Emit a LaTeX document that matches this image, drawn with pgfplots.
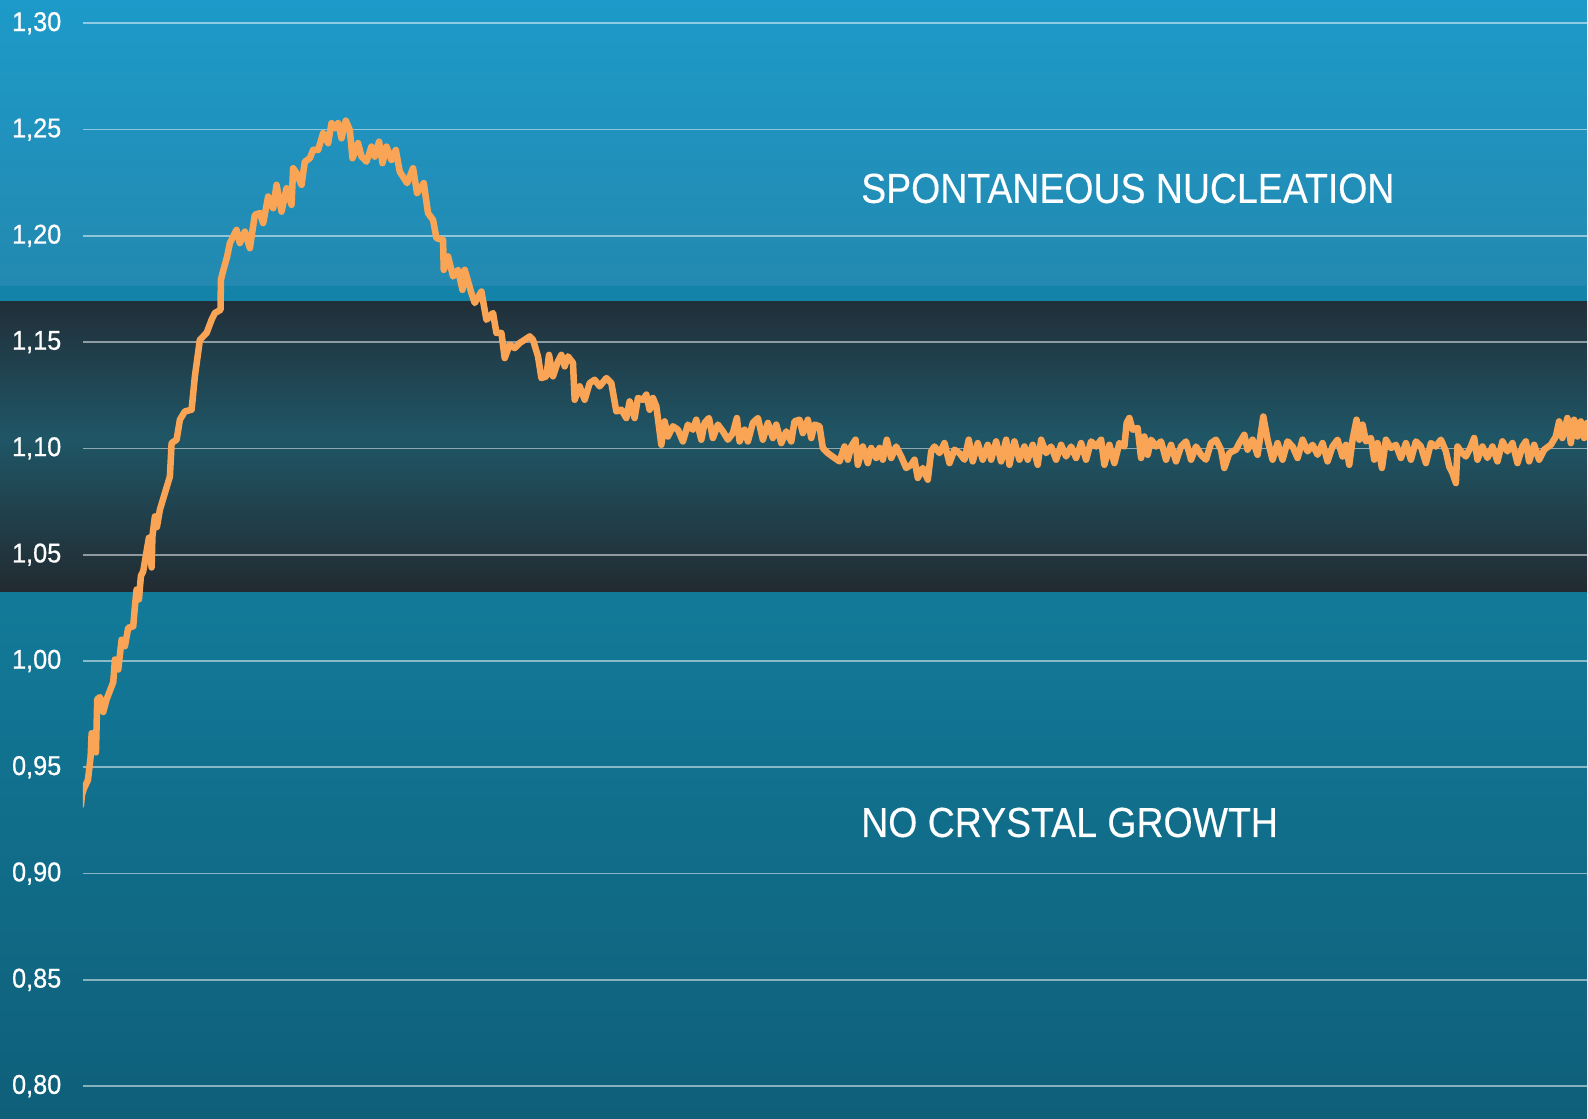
\documentclass[border=0pt]{standalone}
\usepackage{pgfplots}
\pgfplotsset{compat=1.18}
\usepackage{fontspec}
\setmainfont{Liberation Sans}
\newfontfamily\tickfont[FakeStretch=0.93,FakeBold=0.6]{Liberation Sans}
\newfontfamily\bigfont[FakeStretch=0.892,FakeBold=0.3]{Liberation Sans}
\definecolor{topA}{RGB}{29,154,201}
\definecolor{topB}{RGB}{35,137,176}
\definecolor{strip}{RGB}{19,131,169}
\definecolor{darkA}{RGB}{33,47,57}
\definecolor{darkM}{RGB}{31,86,102}
\definecolor{darkB}{RGB}{34,42,48}
\definecolor{botA}{RGB}{18,122,153}
\definecolor{botB}{RGB}{15,95,121}
\definecolor{lineor}{RGB}{250,165,85}
\pgfplotstableread{
x y
81 0.932
82 0.937
84 0.940
88 0.944
90.7 0.955
91.7 0.966
94 0.963
96 0.957
97.3 0.982
100 0.983
103.3 0.976
106.7 0.982
113.3 0.990
115 1.0007
118.3 0.996
121.7 1.010
125 1.007
128.3 1.0156
133.3 1.0163
135 1.0257
136.7 1.0336
139 1.029
141 1.040
143.3 1.0422
146.7 1.0516
149 1.058
151.7 1.044
152.5 1.0586
155 1.068
157 1.063
160 1.0712
165 1.079
170 1.0868
171.7 1.1025
176.7 1.1041
180 1.1135
185 1.1174
191.7 1.1182
195 1.1339
200 1.1511
206.7 1.1543
211.7 1.1605
215 1.1637
220.7 1.1652
221 1.1793
222.7 1.1825
227.3 1.1903
230 1.1966
236.7 1.2028
240 1.1966
245 1.2020
250 1.1942
255 1.2099
260 1.2107
263.3 1.206
268.3 1.2185
273.3 1.213
276.7 1.224
281.7 1.2114
286.7 1.2224
291.7 1.2146
293.3 1.2318
296.7 1.2295
301.7 1.224
305 1.2349
310 1.2365
313.3 1.2404
318.3 1.2404
323.3 1.2483
328.3 1.2436
331.7 1.253
335 1.2506
338.3 1.253
341.7 1.2459
346 1.2542
350 1.2498
352.7 1.2365
358.3 1.2436
361.7 1.2373
366.7 1.2349
371.7 1.242
375 1.2373
379.3 1.2443
382.7 1.2342
386.7 1.242
391.7 1.2357
396 1.2404
400 1.2302
407.3 1.2248
413.3 1.2318
417.3 1.2201
424 1.2248
428.3 1.2107
433.3 1.2075
436.7 1.1989
443.3 1.1981
444 1.184
448.3 1.1903
453.3 1.1809
458.3 1.184
462.7 1.1746
465 1.184
471.7 1.173
475 1.1684
481.7 1.1738
486.7 1.1605
493.3 1.1637
496.7 1.1543
501.7 1.1543
505 1.1425
510 1.1488
515 1.1472
520 1.1496
525 1.1511
530 1.1527
533.3 1.1511
538.3 1.1433
541.7 1.1331
546.7 1.1339
549.3 1.144
553.3 1.1339
558.3 1.141
561.7 1.144
565 1.1386
568.3 1.1433
573.3 1.1402
575 1.1229
580 1.1292
585 1.1229
590 1.1307
595 1.1323
600 1.1292
606.7 1.1331
611.7 1.1307
616.7 1.1174
621.7 1.1182
626.7 1.1143
630 1.1221
635 1.1143
638.3 1.1237
643.3 1.1229
646.7 1.1253
650 1.1182
653.3 1.1237
656.7 1.1198
661.7 1.1017
665 1.1127
668.3 1.1056
673.3 1.1104
678.3 1.1088
683.3 1.1033
688.3 1.1112
693.3 1.1088
696.7 1.1135
701.7 1.1041
705 1.112
709.3 1.1143
713.3 1.1049
718.3 1.1112
723.3 1.108
728.3 1.1041
733.3 1.1072
737.3 1.1143
740 1.1033
745 1.1088
748.3 1.1033
753.3 1.112
758.3 1.1143
763.3 1.1041
768.3 1.112
773.3 1.1049
776.7 1.1112
781.7 1.1025
786.7 1.108
791.7 1.1033
795 1.1127
800 1.1135
803.3 1.1072
808.3 1.1135
811.7 1.1049
815 1.1112
820 1.1104
823.3 1.1002
828.3 1.0978
835 1.0955
840 1.0939
845 1.1009
848.3 1.0947
851.7 1.1009
856 1.1041
858.3 1.0923
863.3 1.1009
868.3 1.0931
871.7 1.1002
876.7 1.0955
880 1.1002
883.3 1.0947
887.3 1.1041
891.7 1.0955
896.7 1.1009
901.7 1.0962
906.7 1.0908
911.7 1.0923
915 1.0947
918.3 1.0861
923.3 1.0908
928.3 1.0853
931.7 1.0986
935 1.1009
940 1.0978
945 1.1025
950 1.0931
955 1.0994
960 1.0978
965 1.0947
969.3 1.1041
973.3 1.0939
978.3 1.1025
983.3 1.0947
988.3 1.1017
991.7 1.0947
996.7 1.1033
1001.7 1.0939
1006.7 1.1041
1010 1.0923
1015 1.1033
1020 1.0947
1025 1.1009
1028.3 1.0947
1033.3 1.1017
1038.3 1.0923
1041.7 1.1041
1046.7 1.0978
1051.7 1.1009
1056.7 1.0947
1061.7 1.1017
1066.7 1.0962
1071.7 1.1009
1076.7 1.0955
1081.7 1.1025
1086.7 1.0947
1091.7 1.1033
1096.7 1.1009
1101.7 1.1041
1105 1.0923
1110 1.1017
1115 1.0931
1120 1.1025
1125 1.1009
1127.3 1.112
1130 1.1143
1133.3 1.1088
1138.3 1.1096
1141.7 1.0955
1145 1.1056
1148.3 1.097
1151.7 1.1041
1156.7 1.1009
1161.7 1.1033
1166.7 1.0947
1171.7 1.1017
1176.7 1.0939
1181.7 1.1009
1186.7 1.1033
1191.7 1.0947
1196.7 1.1009
1201.7 1.097
1206.7 1.0947
1211.7 1.1025
1216.7 1.1041
1221.7 1.0994
1225 1.0908
1230 1.0978
1236.7 1.0994
1240 1.1025
1245 1.1064
1248.3 1.0994
1253.3 1.1041
1258.3 1.097
1264 1.115
1268.3 1.1041
1273.3 1.0947
1278.3 1.1025
1283.3 1.0947
1288.3 1.1033
1293.3 1.1009
1298.3 1.0955
1303.3 1.1041
1308.3 1.0986
1313.3 1.1017
1318.3 1.097
1323.3 1.1025
1328.3 1.0939
1333.3 1.1009
1338.3 1.1041
1343.3 1.0962
1346.7 1.1017
1350 1.0923
1353.3 1.1041
1357.3 1.1135
1360 1.1041
1363.3 1.1112
1366.7 1.1033
1371.7 1.1049
1375 1.0947
1378.3 1.1025
1382.7 1.0908
1386.7 1.1041
1391.7 1.1002
1396.7 1.1017
1401.7 1.0955
1406.7 1.1025
1411.7 1.0947
1416.7 1.1033
1421.7 1.1009
1426.7 1.0931
1431.7 1.1025
1436.7 1.1009
1441.7 1.1041
1446.7 1.0986
1450 1.0915
1453.3 1.0884
1456.7 1.0837
1458.3 1.1009
1461.7 1.0986
1466.7 1.0962
1471.7 1.1009
1475 1.1049
1478.3 1.0947
1483.3 1.1009
1488.3 1.0955
1493.3 1.1009
1498.3 1.0939
1503.3 1.1033
1508.3 1.0986
1513.3 1.1025
1518.3 1.0931
1523.3 1.1009
1526.7 1.1033
1530 1.0939
1535 1.1017
1540 1.0947
1545 1.0994
1551.7 1.1017
1556.7 1.1056
1560 1.1127
1563.3 1.1049
1568.3 1.1143
1571.7 1.1025
1575 1.1135
1578.3 1.1056
1581.7 1.1127
1585 1.1049
1588 1.112
}\curve
\begin{document}
\begin{tikzpicture}
% background bands (picture is 450pt x 317.10pt; axis box starts at x=0)
\shade[top color=topA, bottom color=topB] (-23.52pt,317.10pt) rectangle (426.48pt,236.07pt);
\fill[strip] (-23.52pt,236.07pt) rectangle (426.48pt,231.55pt);
\shade[top color=darkA, bottom color=darkM] (-23.52pt,231.55pt) rectangle (426.48pt,192.97pt);
\shade[top color=darkM, bottom color=darkB] (-23.52pt,192.97pt) rectangle (426.48pt,148.98pt);
\shade[top color=botA, bottom color=botB] (-23.52pt,148.98pt) rectangle (426.48pt,0pt);
\begin{axis}[
  at={(0,0)}, anchor=south west,
  scale only axis, width=426.48pt, height=317.10pt,
  xmin=83, xmax=1588, ymin=0.78481, ymax=1.31095,
  axis line style={draw=none},
  xtick=\empty,
  ytick={0.80,0.85,0.90,0.95,1.00,1.05,1.10,1.15,1.20,1.25,1.30},
  yticklabels={{0,80},{0,85},{0,90},{0,95},{1,00},{1,05},{1,10},{1,15},{1,20},{1,25},{1,30}},
  ytick style={draw=none},
  major tick length=0pt,
  yticklabel style={font=\tickfont\fontsize{7.7pt}{9pt}\selectfont, text=white, anchor=east, inner sep=0pt, xshift=-5.95pt},
  ymajorgrids,
  grid style={draw=white, draw opacity=0.5, line width=0.5pt},
]
\addplot[lineor, line width=1.85pt, line join=round, line cap=round] table[x=x, y=y] {\curve};
\node[anchor=west, inner sep=0pt, text=white, font=\bigfont\fontsize{11.9pt}{14pt}\selectfont] at (axis cs:861,1.2223) {SPONTANEOUS NUCLEATION};
\node[anchor=west, inner sep=0pt, text=white, font=\bigfont\fontsize{11.9pt}{14pt}\selectfont] at (axis cs:861,0.924) {NO CRYSTAL GROWTH};
\end{axis}
\end{tikzpicture}
\end{document}
